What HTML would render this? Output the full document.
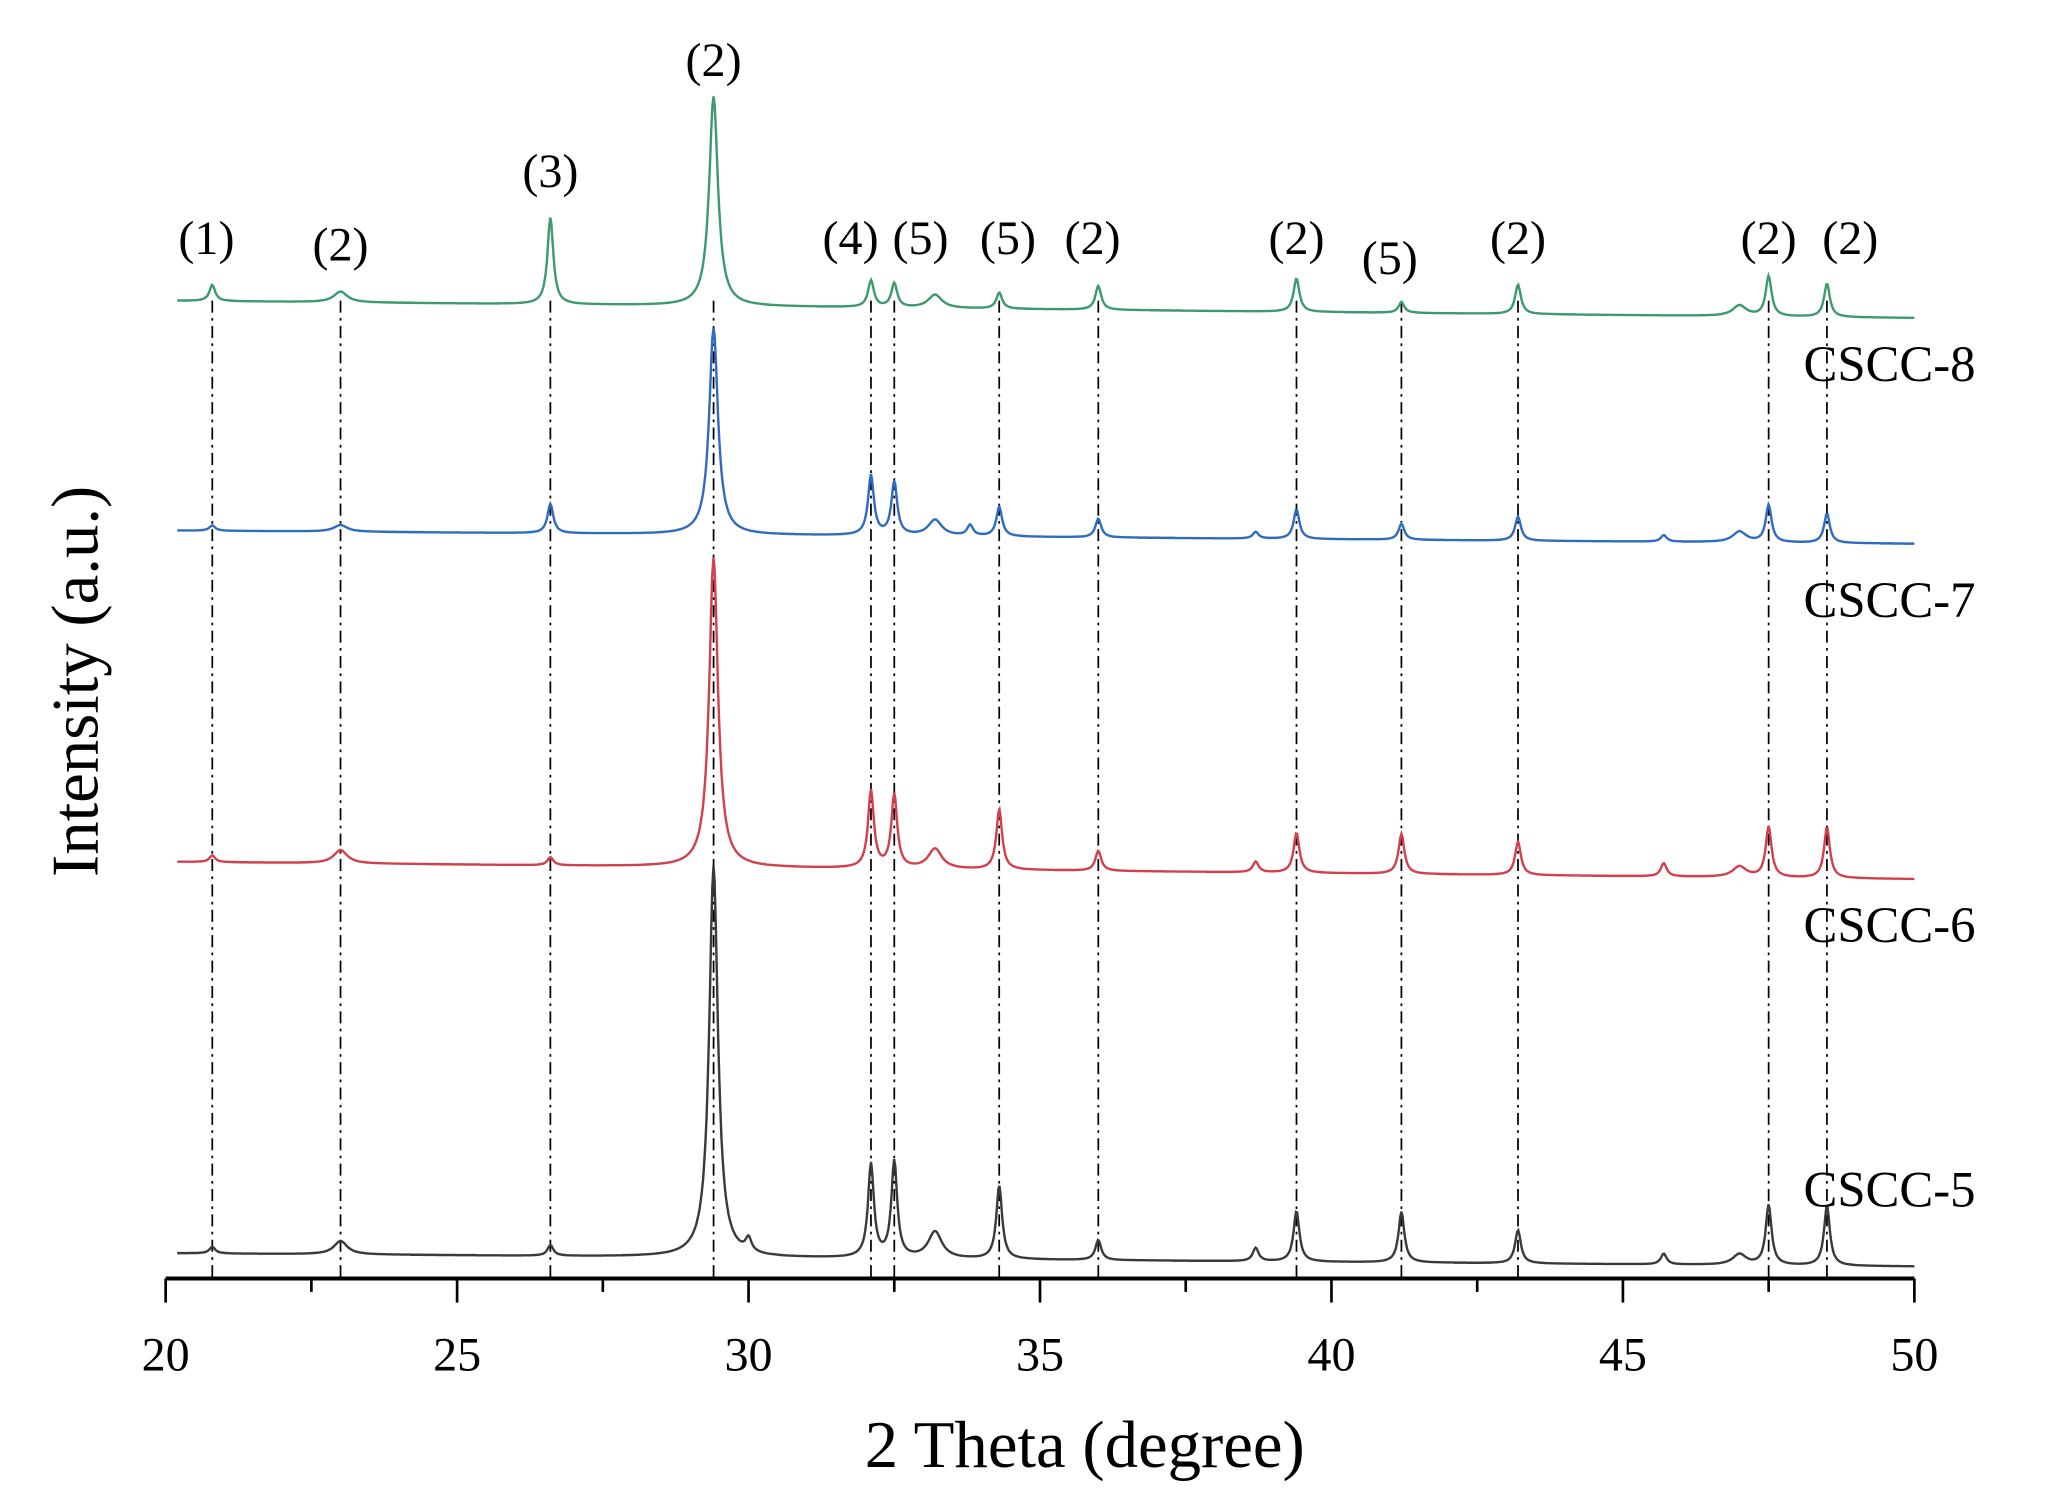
<!DOCTYPE html>
<html><head><meta charset="utf-8"><style>
html,body{margin:0;padding:0;background:#fff;}
svg{display:block;font-family:"Liberation Serif",serif;}
</style></head><body>
<svg id="chart" width="2068" height="1507" viewBox="0 0 1548 1128" xmlns="http://www.w3.org/2000/svg">
<g id="refs"></g>
<g id="series"></g>
<g id="axis"></g>
<g id="labels"></g>
<text x="812" y="1098" font-size="50" text-anchor="middle">2 Theta (degree)</text>
<text transform="translate(73,510) rotate(-90)" font-size="50" text-anchor="middle">Intensity (a.u.)</text>
<text x="1350" y="285" font-size="38">CSCC-8</text>
<text x="1350" y="462" font-size="38">CSCC-7</text>
<text x="1350" y="705" font-size="38">CSCC-6</text>
<text x="1350" y="903" font-size="38">CSCC-5</text>
</svg>
<script>
const xTicks = [20, 25, 30, 35, 40, 45, 50];
const refPositions = [20.8, 23.0, 26.6, 29.4, 32.1, 32.5, 34.3, 36.0, 39.4, 41.2, 43.2, 47.5, 48.5];
const peakLabels = ["(1)","(2)","(3)","(2)","(4)","(5)","(5)","(2)","(2)","(5)","(2)","(2)","(2)"];
const peakLabelPos = [20.7, 23.0, 26.6, 29.4, 31.75, 32.95, 34.45, 35.9, 39.4, 41.0, 43.2, 47.5, 48.9];
const peakLabelY = [190, 195, 140, 57, 190, 190, 190, 190, 190, 205, 190, 190, 190];
const names = ["CSCC-8","CSCC-7","CSCC-6","CSCC-5"];
const baseStart = [225, 397, 645, 938];
const baseEnd = [238, 407, 658, 948];
const g8pos = [20.8,23.0,26.6,29.4,32.1,32.5,33.2,34.3,36.0,39.4,41.2,43.2,47.0,47.5,48.5];
const g8h   = [12,8,65,157,20,18,10,12,18,25,8,22,8,30,25];
const b7pos = [20.8,23.0,26.6,29.4,32.1,32.5,33.2,33.8,34.3,36.0,38.7,39.4,41.2,43.2,45.7,47.0,47.5,48.5];
const b7h   = [4,5,22,155,45,40,12,8,22,14,5,22,12,18,5,8,28,22];
const r6pos = [20.8,23.0,26.6,29.4,32.1,32.5,33.2,34.3,36.0,38.7,39.4,41.2,43.2,45.7,47.0,47.5,48.5];
const r6h   = [5,10,6,232,58,55,15,45,15,8,30,30,25,10,8,38,38];
const k5pos = [20.8,23.0,26.6,29.4,30.0,32.1,32.5,33.2,34.3,36.0,38.7,39.4,41.2,43.2,45.7,47.0,47.5,48.5];
const k5h   = [5,10,8,293,10,70,72,20,55,15,10,38,38,25,8,8,45,45];
const colors = ["#3c9a6c","#2f6cc0","#d2404e","#3a3a3a"];
const NS = "http://www.w3.org/2000/svg";
const X0 = 124, X1 = 1433, AXY = 957;
function sx(v){ return X0 + (v-20)/(50-20)*(X1-X0); }
function mk(tag, attrs, parent){ const e=document.createElementNS(NS,tag); for(const k in attrs) e.setAttribute(k,attrs[k]); parent.appendChild(e); return e; }
const axis = document.getElementById('axis');
const ax = mk('line',{x1:X0,y1:AXY,x2:X1,y2:AXY,stroke:'#000','stroke-width':3},axis);


for(let v=20; v<=50; v+=2.5){
  const major = xTicks.includes(v);
  const t = mk('line',{x1:sx(v),y1:AXY,x2:sx(v),y2:AXY+(major?18:10),stroke:'#000','stroke-width':2},axis);
  
  
}
xTicks.forEach(v=>{
  const t = mk('text',{x:sx(v),y:1026,'font-size':36,'text-anchor':'middle'},axis);
  t.textContent = v;
  
  
});
const refs = document.getElementById('refs');
refPositions.forEach(p=>{
  const l = mk('line',{x1:sx(p),y1:225,x2:sx(p),y2:AXY,stroke:'#000','stroke-width':1.3,'stroke-dasharray':'9,4,2,4'},refs);
  
  
});
const labs = document.getElementById('labels');
peakLabels.forEach((s,i)=>{
  const t = mk('text',{x:sx(peakLabelPos[i]),y:peakLabelY[i],'font-size':36,'text-anchor':'middle'},labs);
  t.textContent = s;
  
  
});
const allPos=[g8pos,b7pos,r6pos,k5pos], allH=[g8h,b7h,r6h,k5h];
const sg = document.getElementById('series');
for(let s=0;s<4;s++){
  let d='';
  for(let i=0;i<=1500;i++){
    const x = 20.2 + i*(29.8/1500);
    let y = baseStart[s] + (baseEnd[s]-baseStart[s])*(x-20)/30;
    allPos[s].forEach((p,j)=>{
      const w = (p===29.4)?0.09:((p===23.0||p===47.0||p===33.2)?0.14:0.06);
      y -= allH[s][j]/(1+((x-p)/w)**2);
    });
    d += (i?'L':'M')+sx(x).toFixed(1)+','+y.toFixed(1);
  }
  const path = mk('path',{d:d,fill:'none',stroke:colors[s],'stroke-width':1.8},sg);
  
  
}
</script>
</body></html>
